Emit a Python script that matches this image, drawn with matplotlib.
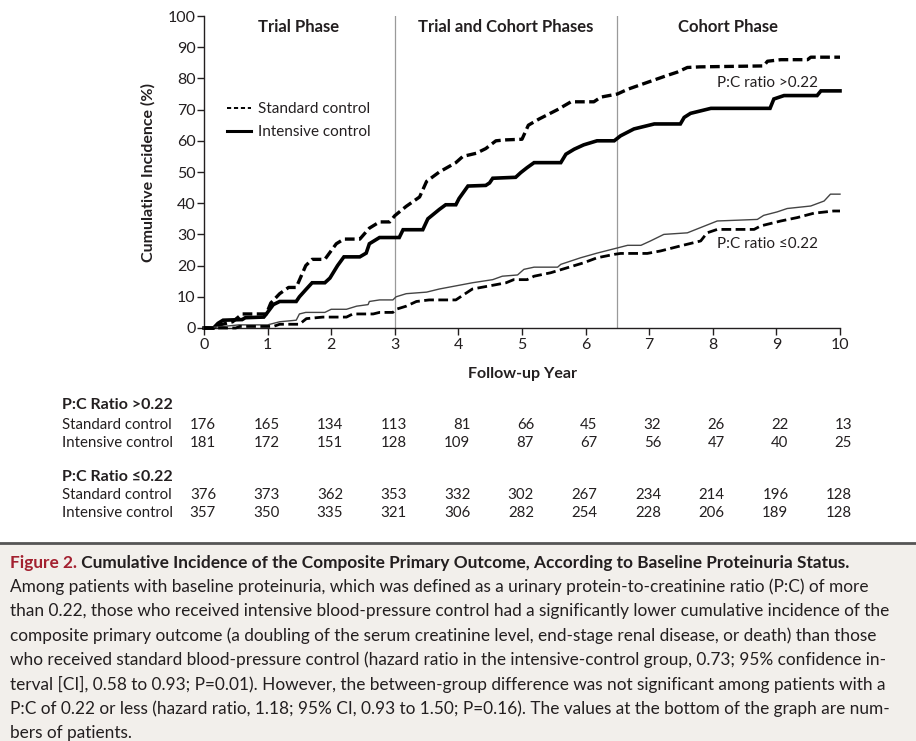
import matplotlib
matplotlib.use("Agg")
import matplotlib.pyplot as plt
from matplotlib.lines import Line2D
from matplotlib.patches import Rectangle
import matplotlib.transforms as mtransforms

plt.rcParams['font.family'] = ['Lato', 'DejaVu Sans']
plt.rcParams['lines.scale_dashes'] = False
TXT = '#231f20'

# ---------------- data ----------------
std_hi_x = [0, 0.15, 0.25, 0.45, 0.6, 0.98, 1.05, 1.19, 1.33, 1.45, 1.6, 1.7, 1.9, 2.08, 2.2, 2.45, 2.6, 2.76, 2.92, 3.0,
            3.18, 3.39, 3.5, 3.7, 3.96, 4.07, 4.28, 4.43, 4.59, 4.75, 5.0, 5.1, 5.27, 5.56, 5.77, 6.13, 6.24, 6.5, 6.66,
            6.87, 7.08, 7.29, 7.44, 7.6, 7.8, 8.8, 8.86, 9.07, 9.49, 9.54, 10]
std_hi_y = [0, 0, 1, 2, 4.5, 4.5, 8, 11, 13, 13, 20, 22, 22, 27, 28.5, 28.5, 32, 34, 34, 36,
            39, 42, 47, 50, 53, 55, 56, 57.5, 60, 60.3, 60.5, 65, 67, 70, 72.5, 72.5, 74, 75, 76.5,
            78, 79.5, 81, 82, 83.5, 83.7, 84, 85.5, 86, 86, 86.8, 86.8]

int_hi_x = [0, 0.15, 0.22, 0.3, 0.6, 0.65, 0.94, 0.98, 1.09, 1.19, 1.45, 1.5, 1.61, 1.7, 1.9, 1.98, 2.1, 2.2, 2.45, 2.55,
            2.6, 2.76, 3.07, 3.13, 3.44, 3.52, 3.7, 3.8, 3.96, 4.01, 4.15, 4.43, 4.49, 4.54, 4.9, 4.98, 5.08, 5.19, 5.61,
            5.69, 5.82, 5.97, 6.18, 6.45, 6.55, 6.76, 6.92, 7.08, 7.49, 7.55, 7.65, 7.97, 8.9, 8.96, 9.12, 9.64, 9.7, 10]
int_hi_y = [0, 0, 1.5, 2.5, 2.7, 3.3, 3.5, 4.5, 7.5, 8.5, 8.5, 10, 12.5, 14.5, 14.5, 16, 20, 22.8, 22.8, 24,
            27, 29, 29, 31.5, 31.5, 35, 38, 39.5, 39.5, 41.5, 45.5, 45.7, 46.5, 48, 48.3, 49.8, 51.4, 53, 53,
            55.7, 57.3, 58.7, 60, 60, 61.6, 63.8, 64.6, 65.4, 65.4, 67.5, 68.8, 70.4, 70.4, 73.4, 74.5, 74.5, 76, 76]

int_lo_x = [0, 0.3, 0.55, 1.0, 1.19, 1.45, 1.5, 1.6, 1.9, 2.0, 2.24, 2.4, 2.58, 2.6, 2.76, 2.97, 3.02, 3.18, 3.5, 3.7,
            3.96, 4.22, 4.54, 4.69, 4.93, 5.03, 5.19, 5.56, 5.61, 5.92, 6.18, 6.45, 6.66, 6.87, 7.02, 7.23, 7.6, 7.81,
            8.07, 8.7, 8.8, 9.01, 9.17, 9.54, 9.75, 9.85, 10]
int_lo_y = [0, 0.5, 1, 1, 2, 2.5, 4.5, 5, 5, 6, 6, 7, 7.5, 8.5, 9, 9, 10, 11, 11.5, 12.5,
            13.5, 14.5, 15.5, 16.6, 17, 18.8, 19.5, 19.5, 20.4, 22.5, 24, 25.4, 26.5, 26.5, 27.9, 30, 30.5, 32.2,
            34.3, 34.8, 36.1, 37.2, 38.3, 39.1, 40.7, 42.9, 42.9]

std_lo_x = [0, 0.5, 0.56, 1.09, 1.19, 1.5, 1.61, 1.87, 2.24, 2.34, 2.66, 2.76, 2.97, 3.02, 3.18, 3.34, 3.54, 3.96, 4.07,
            4.22, 4.49, 4.75, 4.87, 5.08, 5.19, 5.45, 5.71, 5.97, 6.18, 6.45, 6.55, 6.97, 7.18, 7.49, 7.81, 7.91, 8.07,
            8.65, 8.75, 9.07, 9.33, 9.59, 9.9, 10]
std_lo_y = [0, 0, 0.5, 0.5, 1.2, 1.2, 3, 3.5, 3.5, 4.5, 4.5, 5, 5, 6, 7, 8.5, 9, 9, 10.5,
            12.5, 13.5, 14.5, 15.5, 15.5, 16.6, 17.7, 19.3, 20.9, 22.5, 23.6, 23.9, 23.9, 24.7, 26.3, 27.9, 30.5, 31.6,
            31.6, 32.7, 34.3, 35.4, 36.8, 37.5, 37.5]

years = [0, 1, 2, 3, 4, 5, 6, 7, 8, 9, 10]
yticks = [0, 10, 20, 30, 40, 50, 60, 70, 80, 90, 100]
phase_bounds = [3, 6.5]
phase_labels = ["Trial Phase", "Trial and Cohort Phases", "Cohort Phase"]
phase_centers = [1.49, 4.75, 8.24]

risk_hi_std = [176, 165, 134, 113, 81, 66, 45, 32, 26, 22, 13]
risk_hi_int = [181, 172, 151, 128, 109, 87, 67, 56, 47, 40, 25]
risk_lo_std = [376, 373, 362, 353, 332, 302, 267, 234, 214, 196, 128]
risk_lo_int = [357, 350, 335, 321, 306, 282, 254, 228, 206, 189, 128]

# ---------------- figure ----------------
W, H = 916, 741
fig = plt.figure(figsize=(W / 100, H / 100), dpi=100)

def fy(py):
    return 1 - py / H

def fx(px):
    return px / W

ax = fig.add_axes([fx(204), fy(328), 636 / W, 312 / H])
ax.set_xlim(0, 10)
ax.set_ylim(0, 100)
for s in ['top', 'right']:
    ax.spines[s].set_visible(False)
for s in ['left', 'bottom']:
    ax.spines[s].set_linewidth(1.0)
    ax.spines[s].set_color(TXT)
ax.set_xticks(years)
ax.set_yticks(yticks)
ax.tick_params(direction='out', length=5, width=1, color=TXT, labelsize=11.5, labelcolor=TXT, pad=2)
ax.tick_params(axis='y', pad=1)

for b in phase_bounds:
    ax.axvline(b, color='#9a9a9a', lw=0.9, zorder=1)
for c, lab in zip(phase_centers, phase_labels):
    ax.text(c, 96.6, lab, ha='center', va='center', fontsize=12, fontweight='bold', color=TXT)

dash = (0, (7, 3.2))
ax.plot(std_hi_x, std_hi_y, color='black', lw=2.4, ls=dash, clip_on=False, zorder=3)
ax.plot(int_hi_x, int_hi_y, color='black', lw=2.6, clip_on=False, zorder=3, solid_joinstyle='miter')
ax.plot(int_lo_x, int_lo_y, color='#444444', lw=1.0, clip_on=False, zorder=3)
ax.plot(std_lo_x, std_lo_y, color='black', lw=2.0, ls=dash, clip_on=False, zorder=3)

ax.text(8.86, 78.6, "P:C ratio >0.22", ha='center', va='center', fontsize=11, color=TXT)
ax.text(8.86, 26.8, "P:C ratio \u22640.22", ha='center', va='center', fontsize=11, color=TXT)

handles = [Line2D([], [], color='black', lw=1.4, ls=(0, (3, 2))),
           Line2D([], [], color='black', lw=2.2)]
ax.legend(handles, ["Standard control", "Intensive control"], loc='upper left',
          bbox_to_anchor=(fx(227), fy(102)), bbox_transform=fig.transFigure, frameon=False,
          fontsize=11, handlelength=1.6, handletextpad=0.45, labelspacing=0.62, labelcolor=TXT,
          borderaxespad=0, borderpad=0)

ax.set_xlabel("Follow-up Year", fontsize=11.5, fontweight='bold', color=TXT, labelpad=11)
ax.set_ylabel("Cumulative Incidence (%)", fontsize=11.5, fontweight='bold', color=TXT, labelpad=9)

# ---------------- at-risk table ----------------
trans = mtransforms.blended_transform_factory(ax.transData, fig.transFigure) + \
    mtransforms.ScaledTranslation(12 / 100, 0, fig.dpi_scale_trans)

def table_block(title, y_title, rows):
    fig.text(fx(62), fy(y_title), title, ha='left', va='center', fontsize=11.5, fontweight='bold', color=TXT)
    for (label, vals), yy in rows:
        fig.text(fx(62), fy(yy), label, ha='left', va='center', fontsize=10.8, color=TXT)
        for yr, v in zip(years, vals):
            fig.text(yr, fy(yy), str(v), transform=trans, ha='right', va='center', fontsize=10.8, color=TXT)

table_block("P:C Ratio >0.22", 405, [(("Standard control", risk_hi_std), 425), (("Intensive control", risk_hi_int), 443)])
table_block("P:C Ratio \u22640.22", 477, [(("Standard control", risk_lo_std), 495), (("Intensive control", risk_lo_int), 513)])

# ---------------- caption ----------------
fig.patches.append(Rectangle((0, 0), 1, fy(543), transform=fig.transFigure, facecolor='#f2efeb',
                             edgecolor='none', zorder=-5))
fig.add_artist(Line2D([0, 1], [fy(543), fy(543)], transform=fig.transFigure, color='#555555', lw=2, zorder=-4))

cap_fs = 12.45
title_fs = 12.4
t1 = fig.text(fx(10), fy(563), "Figure 2.", ha='left', va='center', fontsize=title_fs, fontweight='bold',
              color='#a3202f')
renderer = fig.canvas.get_renderer()
bb = t1.get_window_extent(renderer)
fig.text(bb.x1 / W, fy(563), " Cumulative Incidence of the Composite Primary Outcome, According to Baseline Proteinuria Status.",
         ha='left', va='center', fontsize=title_fs, fontweight='bold', color=TXT)

cap_lines = [
    "Among patients with baseline proteinuria, which was defined as a urinary protein-to-creatinine ratio (P:C) of more",
    "than 0.22, those who received intensive blood-pressure control had a significantly lower cumulative incidence of the",
    "composite primary outcome (a doubling of the serum creatinine level, end-stage renal disease, or death) than those",
    "who received standard blood-pressure control (hazard ratio in the intensive-control group, 0.73; 95% confidence in-",
    "terval [CI], 0.58 to 0.93; P=0.01). However, the between-group difference was not significant among patients with a",
    "P:C of 0.22 or less (hazard ratio, 1.18; 95% CI, 0.93 to 1.50; P=0.16). The values at the bottom of the graph are num-",
    "bers of patients.",
]
for i, line in enumerate(cap_lines):
    fig.text(fx(10), fy(587 + 24.4 * i), line, ha='left', va='center', fontsize=cap_fs, color=TXT)

fig.savefig("out.png", dpi=100)
